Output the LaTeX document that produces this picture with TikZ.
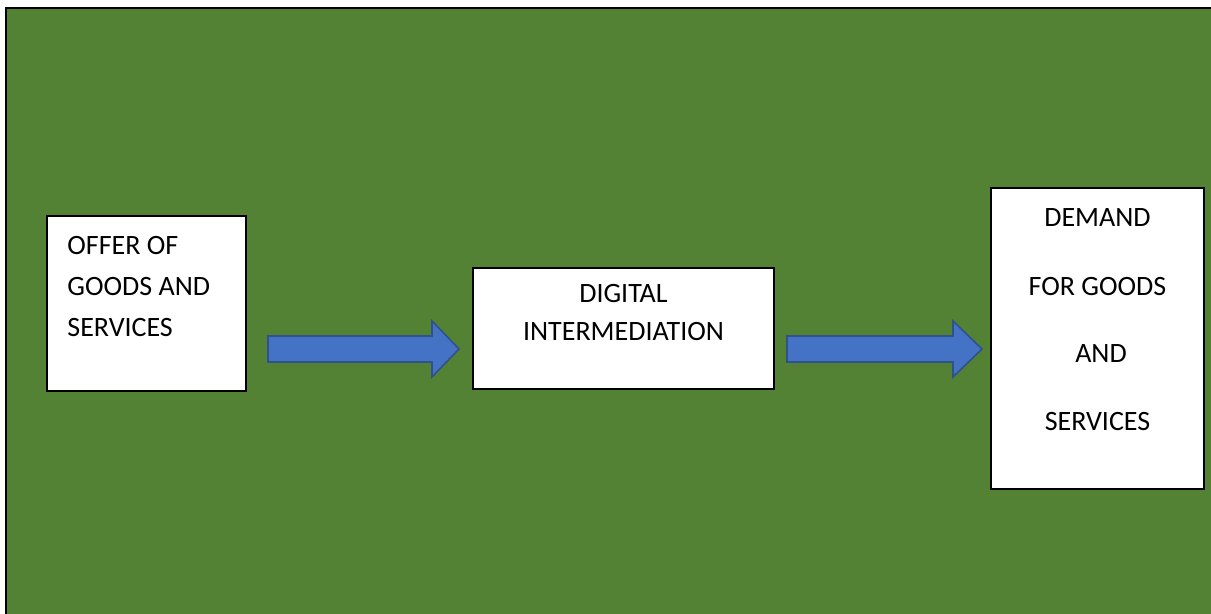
\documentclass[tikz,border=0pt]{standalone}
\usepackage{fontspec}
\setmainfont{Carlito}
\definecolor{bggreen}{HTML}{548235}
\definecolor{arrfill}{HTML}{4472C4}
\definecolor{arrline}{HTML}{2F528F}
\begin{document}
\begin{tikzpicture}[x=0.5pt,y=-0.5pt,
  box/.style={draw=black,line width=0.75pt,fill=white,inner sep=0pt},
  lbl/.style={inner sep=0pt,font=\fontsize{14pt}{17pt}\selectfont},
  blockarrow/.style={fill=arrfill,draw=arrline,line width=0.8pt,line join=miter}]
\useasboundingbox (0,0) rectangle (1211,614);
\fill[white] (0,0) rectangle (1211,614);
\fill[bggreen] (6,8) rectangle (1211,614);
\draw[black,line width=1.2pt] (6,614) -- (6,8) -- (1211,8);
% boxes
\node[box,minimum width=99.5pt,minimum height=87.5pt] (b1) at (146.5,303.5) {};
\node[box,minimum width=150.5pt,minimum height=60.5pt] (b2) at (623.5,328.5) {};
\node[box,minimum width=106.5pt,minimum height=150.5pt] (b3) at (1097.5,338.5) {};
% texts
\node[lbl,anchor=base west] (t11) at (67,255) {OFFER OF};
\node[lbl,anchor=base west] (t12) at (67,296) {GOODS AND};
\node[lbl,anchor=base west] (t13) at (67,337) {SERVICES};
\node[lbl,anchor=base] (t21) at (623.5,303) {DIGITAL};
\node[lbl,anchor=base] (t22) at (623.5,341) {INTERMEDIATION};
\node[lbl,anchor=base] (t31) at (1097.5,227) {DEMAND};
\node[lbl,anchor=base] (t32) at (1097.5,296) {FOR GOODS};
\node[lbl,anchor=base] (t33) at (1101,363) {AND};
\node[lbl,anchor=base] (t34) at (1097.5,431) {SERVICES};
% block arrows
\draw[blockarrow] (268,336) -- (432,336) -- (432,321) -- (459,349) -- (432,377) -- (432,362) -- (268,362) -- cycle;
\draw[blockarrow] (787,336) -- (953,336) -- (953,321) -- (982,349) -- (953,377) -- (953,362) -- (787,362) -- cycle;
\end{tikzpicture}
\end{document}
